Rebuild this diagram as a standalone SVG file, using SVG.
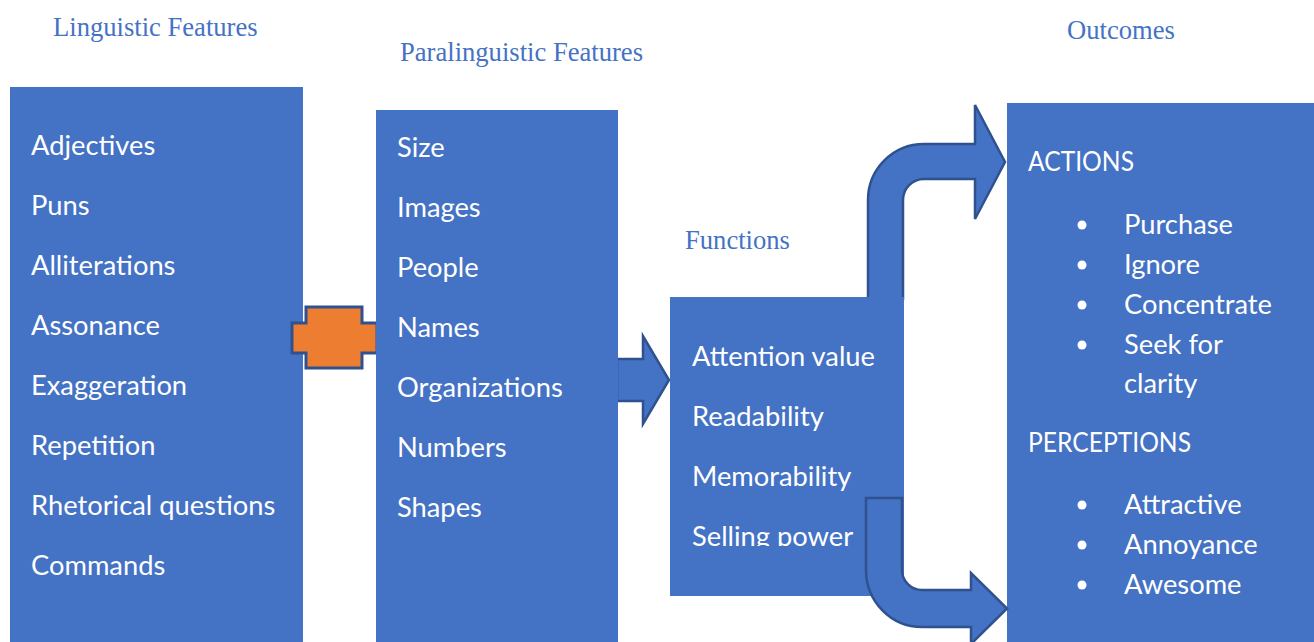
<svg xmlns="http://www.w3.org/2000/svg" width="1314" height="642" viewBox="0 0 1314 642">
<defs>
<style>
.box{fill:#4472C4;}
.t{font-family:Lato,"Open Sans",sans-serif;font-size:27.3px;fill:#FFFFFF;}
.title{font-family:"Liberation Serif","Times New Roman",serif;font-size:26.6px;fill:#4472C4;}
.arrow{fill:#4472C4;stroke:#2F528F;stroke-width:2.5;stroke-linejoin:miter;}
.plus{fill:#ED7D31;stroke:#2F528F;stroke-width:3;}
.dot{fill:#FFFFFF;}
</style>
<clipPath id="clipSell"><rect x="670" y="297" width="234" height="249"/></clipPath>
</defs>
<rect width="1314" height="642" fill="#FFFFFF"/>

<g id="titles">
<text class="title" x="53" y="36">Linguistic Features</text>
<text class="title" x="400" y="61">Paralinguistic Features</text>
<text class="title" x="1067" y="39">Outcomes</text>
<text class="title" x="685" y="249">Functions</text>
</g>

<g id="linguistic">
<rect class="box" x="10" y="87" width="293" height="555"/>
<text class="t" x="31" y="155">Adjectives</text>
<text class="t" x="31" y="215">Puns</text>
<text class="t" x="31" y="275">Alliterations</text>
<text class="t" x="31" y="335">Assonance</text>
<text class="t" x="31" y="395">Exaggeration</text>
<text class="t" x="31" y="455">Repetition</text>
<text class="t" x="31" y="515">Rhetorical questions</text>
<text class="t" x="31" y="575">Commands</text>
</g>

<g id="connectors">
<polygon class="plus" points="306,307 362,307 362,323 377,323 377,353 362,353 362,368 306,368 306,353 292,353 292,323 306,323"/>
<path class="arrow" d="M617 359 L643 359 L643 336 L669 380 L643 424 L643 401 L617 401 Z"/>
<path class="arrow" d="M868 299 L868 200 A56 56 0 0 1 924 144 L975 144 L975 105 L1005 162 L975 219 L975 179 L924 179 A21 21 0 0 0 903 200 L903 299 Z"/>
</g>

<g id="paralinguistic">
<rect class="box" x="376" y="110" width="242" height="532"/>
<text class="t" x="397" y="157">Size</text>
<text class="t" x="397" y="217">Images</text>
<text class="t" x="397" y="277">People</text>
<text class="t" x="397" y="337">Names</text>
<text class="t" x="397" y="397">Organizations</text>
<text class="t" x="397" y="457">Numbers</text>
<text class="t" x="397" y="517">Shapes</text>
</g>

<g id="functions">
<rect class="box" x="670" y="297" width="234" height="299"/>
<text class="t" x="692" y="366">Attention value</text>
<text class="t" x="692" y="426">Readability</text>
<text class="t" x="692" y="486">Memorability</text>
<text class="t" x="692" y="546" clip-path="url(#clipSell)">Selling power</text>
</g>

<g id="outcomes">
<rect class="box" x="1007" y="103" width="307" height="539"/>
<text class="t" x="1028" y="171" textLength="106" lengthAdjust="spacingAndGlyphs">ACTIONS</text>
<circle class="dot" cx="1082" cy="225" r="4.5"/>
<text class="t" x="1124" y="234">Purchase</text>
<circle class="dot" cx="1082" cy="265" r="4.5"/>
<text class="t" x="1124" y="274">Ignore</text>
<circle class="dot" cx="1082" cy="305" r="4.5"/>
<text class="t" x="1124" y="314">Concentrate</text>
<circle class="dot" cx="1082" cy="345" r="4.5"/>
<text class="t" x="1124" y="354">Seek for</text>
<text class="t" x="1124" y="393">clarity</text>
<text class="t" x="1028" y="452" textLength="163" lengthAdjust="spacingAndGlyphs">PERCEPTIONS</text>
<circle class="dot" cx="1082" cy="505" r="4.5"/>
<text class="t" x="1124" y="514">Attractive</text>
<circle class="dot" cx="1082" cy="545" r="4.5"/>
<text class="t" x="1124" y="554">Annoyance</text>
<circle class="dot" cx="1082" cy="585" r="4.5"/>
<text class="t" x="1124" y="594">Awesome</text>
</g>

<g id="connectors-top">
<path class="arrow" d="M866 498 L902 498 L902 570 A20 20 0 0 0 922 590 L971 590 L971 573 L1007 608.5 L971 644 L971 627 L922 627 A56 57 0 0 1 866 570 Z"/>
</g>
</svg>
